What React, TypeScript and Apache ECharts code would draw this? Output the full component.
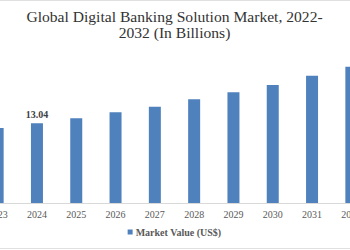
import React, { useEffect, useRef } from "react";
import * as echarts from "echarts";

const years = ["2023", "2024", "2025", "2026", "2027", "2028", "2029", "2030", "2031", "2032"];
const marketValues = [12.27, 13.04, 13.86, 14.84, 15.76, 16.97, 18.1, 19.3, 20.8, 22.3];
const labeledYear = "2024";
const titleText = "Global Digital Banking Solution Market, 2022-\n2032 (In Billions)";
const seriesName = "Market Value (US$)";

const SERIF = "'Liberation Serif', 'DejaVu Serif', serif";
const OFFSET = 22;
const INNER_W = 393;

export default function App() {
  const ref = useRef<HTMLDivElement>(null);
  useEffect(() => {
    if (!ref.current) return;
    const chart = echarts.init(ref.current, null, { renderer: "svg" });
    chart.setOption({
      animation: false,
      backgroundColor: "#ffffff",
      title: {
        text: titleText,
        left: "center",
        top: 3,
        textStyle: {
          fontFamily: SERIF,
          fontSize: 15.6,
          fontWeight: "normal",
          color: "#333333",
          lineHeight: 16.5,
        },
      },
      legend: {
        bottom: 8,
        left: "center",
        itemWidth: 5,
        itemHeight: 5,
        itemGap: 4,
        icon: "rect",
        textStyle: {
          fontFamily: SERIF,
          fontSize: 10,
          fontWeight: "bold",
          color: "#595959",
          padding: [0, 0, 0, -2],
        },
        data: [seriesName],
      },
      grid: {
        left: 0,
        right: 0,
        top: 50.2,
        bottom: 47,
        containLabel: false,
      },
      xAxis: {
        type: "category",
        data: years,
        axisLine: { show: true, lineStyle: { color: "#d9d9d9", width: 1 } },
        axisTick: { show: false },
        axisLabel: {
          fontFamily: SERIF,
          fontSize: 10,
          color: "#595959",
          margin: 6,
          interval: 0,
        },
      },
      yAxis: {
        type: "value",
        min: 0,
        max: 25,
        show: false,
        splitLine: { show: false },
      },
      series: [
        {
          name: seriesName,
          type: "bar",
          barWidth: 12,
          itemStyle: { color: "#4F81BD" },
          data: marketValues.map((v, i) => ({
            value: v,
            label: {
              show: years[i] === labeledYear,
              position: "top",
              distance: 4,
              fontFamily: SERIF,
              fontSize: 10,
              fontWeight: "bold",
              color: "#404040",
            },
          })),
        },
      ],
      graphic: [
        {
          type: "line",
          shape: { x1: 0, y1: 0.5, x2: INNER_W, y2: 0.5 },
          style: { stroke: "#e0e0e0", lineWidth: 1 },
        },
        {
          type: "line",
          shape: { x1: 0, y1: 248.5, x2: INNER_W, y2: 248.5 },
          style: { stroke: "#e0e0e0", lineWidth: 1 },
        },
      ],
    });
    return () => chart.dispose();
  }, []);
  return (
    <div style={{ width: 350, height: 250, position: "absolute", left: 0, top: 0, overflow: "hidden" }}>
      <div ref={ref} style={{ width: INNER_W, height: 250, position: "absolute", left: -OFFSET, top: 0 }} />
    </div>
  );
}
